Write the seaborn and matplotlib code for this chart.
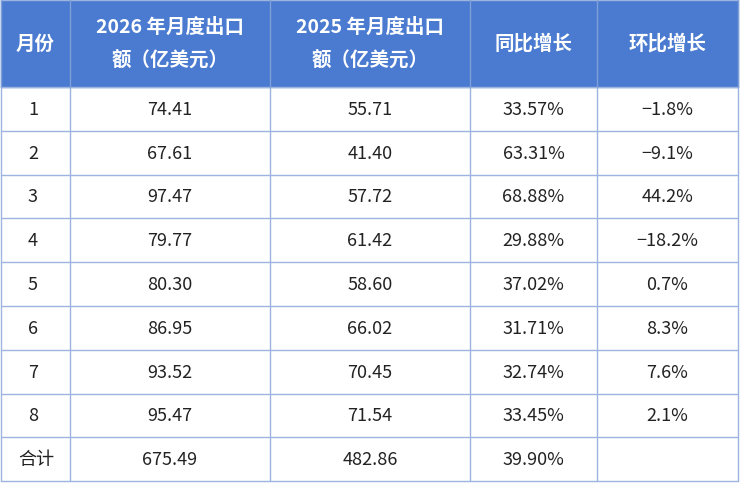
import matplotlib
matplotlib.use("Agg")
import matplotlib.pyplot as plt
from matplotlib.patches import Rectangle
import seaborn as sns

# ── Data ───────────────────────────────────────────────────────────────────────
headers = ["月份", "2026 年月度出口\n额（亿美元）", "2025 年月度出口\n额（亿美元）", "同比增长", "环比增长"]
months = ["1", "2", "3", "4", "5", "6", "7", "8", "合计"]
export_2026 = ["74.41", "67.61", "97.47", "79.77", "80.30", "86.95", "93.52", "95.47", "675.49"]
export_2025 = ["55.71", "41.40", "57.72", "61.42", "58.60", "66.02", "70.45", "71.54", "482.86"]
yoy = ["33.57%", "63.31%", "68.88%", "29.88%", "37.02%", "31.71%", "32.74%", "33.45%", "39.90%"]
mom = ["−1.8%", "−9.1%", "44.2%", "−18.2%", "0.7%", "8.3%", "7.6%", "2.1%", ""]

sns.set_theme(style="white")
plt.rcParams["font.family"] = ["Noto Sans CJK SC", "DejaVu Sans"]

W, H = 741, 485
fig = plt.figure(figsize=(W / 100, H / 100), dpi=100)
ax = fig.add_axes([0, 0, 1, 1])
ax.set_xlim(0, W)
ax.set_ylim(H, 0)
ax.axis("off")

col_x = [1, 70, 270, 470, 597, 738]
header_h = 88
row_h = 43.8
line_c = "#9db4e0"
head_c = "#4a7bd0"

ax.add_patch(Rectangle((col_x[0], 1), col_x[-1] - col_x[0], header_h - 1, color=head_c, zorder=0))
for i, h in enumerate(headers):
    cx = (col_x[i] + col_x[i + 1]) / 2
    ax.text(cx, header_h / 2, h, ha="center", va="center", color="white",
            fontsize=14, fontweight="bold", linespacing=1.9)

columns = [months, export_2026, export_2025, yoy, mom]
for r in range(len(months)):
    cy = header_h + row_h * (r + 0.5)
    for i, col in enumerate(columns):
        cx = (col_x[i] + col_x[i + 1]) / 2
        if i == 0:
            cx = 33 if r < len(months) - 1 else 36
        ax.text(cx, cy, col[r], ha="center", va="center", color="#222222", fontsize=13)

bottom = header_h + row_h * len(months)
for r in range(len(months) + 1):
    y = header_h + row_h * r
    ax.plot([col_x[0], col_x[-1]], [y, y], color=line_c, lw=1)
ax.plot([col_x[0], col_x[-1]], [1, 1], color=line_c, lw=1)
for x in col_x:
    ax.plot([x, x], [header_h, bottom], color=line_c, lw=1)
    ax.plot([x, x], [1, header_h], color="#7f9fd8", lw=1)

fig.savefig("out.png", dpi=100)
